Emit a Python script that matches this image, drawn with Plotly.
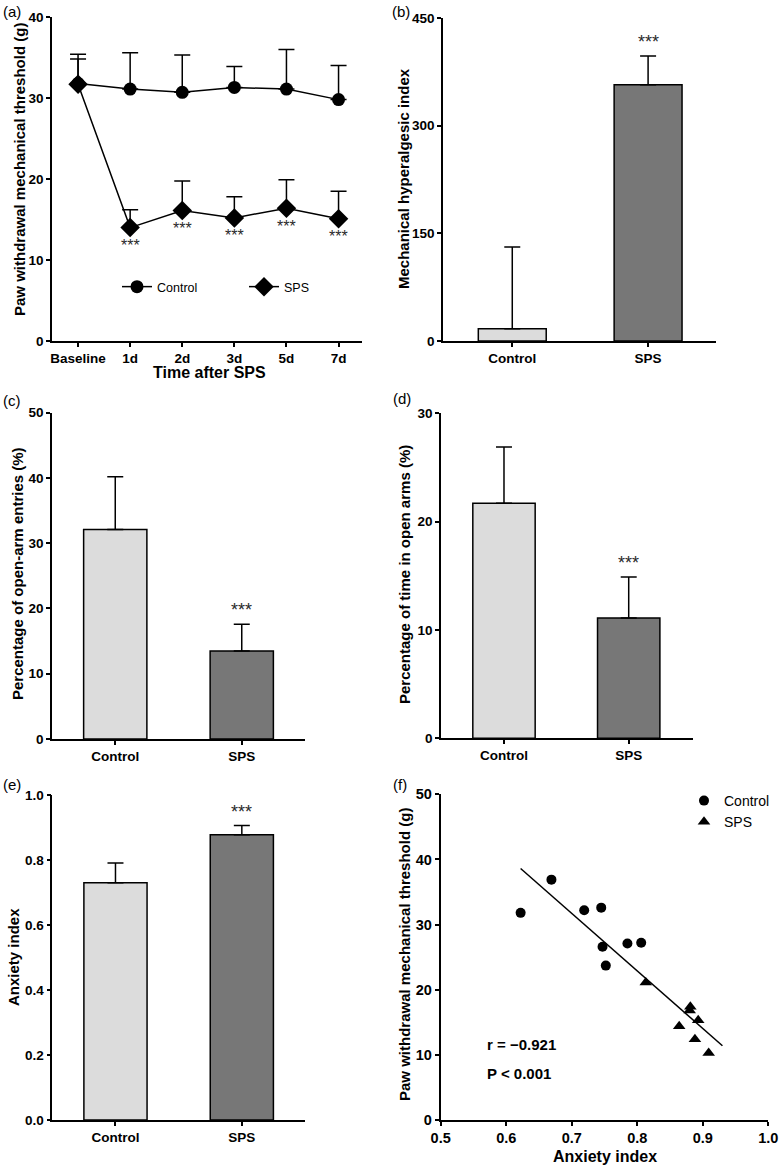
import plotly.graph_objects as go

# ---------------- data ----------------
time_points = ["Baseline", "1d", "2d", "3d", "5d", "7d"]
a_control_mean = [31.8, 31.1, 30.7, 31.3, 31.1, 29.8]
a_control_err = [3.6, 4.5, 4.6, 2.6, 4.9, 4.2]
a_sps_mean = [31.7, 14.0, 16.1, 15.2, 16.4, 15.1]
a_sps_err = [3.1, 2.2, 3.65, 2.6, 3.5, 3.4]
a_sps_sig = ["", "***", "***", "***", "***", "***"]

groups = ["Control", "SPS"]
b_mean = [17, 357]
b_err = [114, 40]
c_mean = [32.1, 13.5]
c_err = [8.1, 4.1]
d_mean = [21.7, 11.1]
d_err = [5.2, 3.8]
e_mean = [0.730, 0.878]
e_err = [0.061, 0.028]
bar_sig = ["", "***"]

f_ctrl_x = [0.622, 0.669, 0.719, 0.745, 0.747, 0.752, 0.785, 0.806]
f_ctrl_y = [31.8, 36.9, 32.2, 32.6, 26.6, 23.7, 27.1, 27.2]
f_sps_x = [0.813, 0.881, 0.880, 0.893, 0.864, 0.888, 0.909]
f_sps_y = [21.1, 17.4, 16.8, 15.3, 14.4, 12.4, 10.3]
f_fit_x = [0.622, 0.930]
f_fit_y = [38.6, 11.4]
f_stats = ["r = \u22120.921", "P < 0.001"]

# ---------------- style ----------------
W, H = 780, 1167
FONT = "Liberation Sans, Arial, sans-serif"
CTRL_COLOR = "#dcdcdc"
SPS_COLOR = "#777777"
STAR_COLOR = "#2a2a2a"


def px(x):
    return x / W


def py(y):
    return 1 - y / H


fig = go.Figure()

# ---- panel (a) ----
fig.add_trace(go.Scatter(
    x=time_points, y=a_control_mean, mode="lines+markers", name="Control",
    line=dict(color="black", width=1.5),
    marker=dict(symbol="circle", size=13, color="black"),
    error_y=dict(type="data", array=a_control_err, arrayminus=[0] * 6, symmetric=False,
                 color="black", thickness=1.5, width=8),
    xaxis="x", yaxis="y", legend="legend"))
fig.add_trace(go.Scatter(
    x=time_points, y=a_sps_mean, mode="lines+markers", name="SPS",
    line=dict(color="black", width=1.5),
    marker=dict(symbol="diamond", size=15, color="black"),
    error_y=dict(type="data", array=a_sps_err, arrayminus=[0] * 6, symmetric=False,
                 color="black", thickness=1.5, width=8),
    xaxis="x", yaxis="y", legend="legend"))

annotations = []
for tp, m, s in zip(time_points, a_sps_mean, a_sps_sig):
    if s:
        annotations.append(dict(x=tp, y=m, xref="x", yref="y", text=s, showarrow=False,
                                yshift=-18, font=dict(family=FONT, size=16, color=STAR_COLOR)))


def bar_panel(xa, ya, means, errs):
    fig.add_trace(go.Bar(
        x=groups, y=means, width=0.5,
        marker=dict(color=[CTRL_COLOR, SPS_COLOR], line=dict(color="black", width=1.5)),
        error_y=dict(type="data", array=errs, arrayminus=[0, 0], symmetric=False,
                     color="black", thickness=1.5, width=8),
        showlegend=False, xaxis=xa, yaxis=ya))
    for g, m, e, s in zip(groups, means, errs, bar_sig):
        if s:
            annotations.append(dict(x=g, y=m + e, xref=xa, yref=ya, text=s, showarrow=False,
                                    yshift=14, font=dict(family=FONT, size=18, color=STAR_COLOR)))


bar_panel("x2", "y2", b_mean, b_err)
bar_panel("x3", "y3", c_mean, c_err)
bar_panel("x4", "y4", d_mean, d_err)
bar_panel("x5", "y5", e_mean, e_err)

# ---- panel (f) ----
fig.add_trace(go.Scatter(
    x=f_fit_x, y=f_fit_y, mode="lines", line=dict(color="black", width=1.5),
    showlegend=False, xaxis="x6", yaxis="y6"))
fig.add_trace(go.Scatter(
    x=f_ctrl_x, y=f_ctrl_y, mode="markers", name="Control",
    marker=dict(symbol="circle", size=10, color="black"),
    xaxis="x6", yaxis="y6", legend="legend2"))
fig.add_trace(go.Scatter(
    x=f_sps_x, y=f_sps_y, mode="markers", name="SPS",
    marker=dict(symbol="triangle-up", size=11, color="black"),
    xaxis="x6", yaxis="y6", legend="legend2"))

stat_font = dict(family=FONT, size=15, color="black", weight="bold")
annotations.append(dict(x=0.567, y=11.6, xref="x6", yref="y6", text=f_stats[0], showarrow=False,
                        xanchor="left", font=stat_font))
annotations.append(dict(x=0.567, y=7.2, xref="x6", yref="y6", text=f_stats[1], showarrow=False,
                        xanchor="left", font=stat_font))

# ---- axes ----
tickfont = dict(family=FONT, size=13.5, color="black", weight="bold")


def axis(domain, rng, anchor, **kw):
    d = dict(domain=domain, range=rng, anchor=anchor, showline=True, linecolor="black",
             linewidth=1.6, ticks="outside", ticklen=4, tickwidth=1.5, tickcolor="black",
             showgrid=False, zeroline=False, tickfont=tickfont, fixedrange=True,
             automargin=False)
    d.update(kw)
    return d


tickfont_f = dict(family=FONT, size=14.5, color="black", weight="bold")

layout_axes = dict(
    xaxis=axis([px(52), px(362)], [-0.5, 5.45], "y", type="category"),
    yaxis=axis([py(341), py(17)], [0, 40], "x", tickvals=[0, 10, 20, 30, 40]),
    xaxis2=axis([px(443), px(716)], [-0.51, 1.5], "y2", type="category"),
    yaxis2=axis([py(341), py(18)], [0, 450], "x2", tickvals=[0, 150, 300, 450]),
    xaxis3=axis([px(52), px(305)], [-0.5, 1.5], "y3", type="category"),
    yaxis3=axis([py(739), py(412.7)], [0, 50], "x3", tickvals=[0, 10, 20, 30, 40, 50]),
    xaxis4=axis([px(441), px(692.7)], [-0.505, 1.513], "y4", type="category"),
    yaxis4=axis([py(738.3), py(413.3)], [0, 30], "x4", tickvals=[0, 10, 20, 30]),
    xaxis5=axis([px(52.3), px(305)], [-0.5, 1.5], "y5", type="category"),
    yaxis5=axis([py(1120), py(795)], [0, 1.0], "x5", tickvals=[0, 0.2, 0.4, 0.6, 0.8, 1.0],
                tickformat=".1f"),
    xaxis6=axis([px(440.7), px(768.3)], [0.5, 1.0], "y6", tickvals=[0.5, 0.6, 0.7, 0.8, 0.9, 1.0],
                tickformat=".1f", tickfont=tickfont_f, linewidth=2),
    yaxis6=axis([py(1120), py(794.3)], [0, 50], "x6", tickvals=[0, 10, 20, 30, 40, 50],
                tickfont=tickfont_f, linewidth=2),
)

# ---- titles (as annotations) ----
title_font = dict(family=FONT, size=15, color="black", weight="bold")
ytitles = [
    ("Paw withdrawal mechanical threshold (g)", 20, 170),
    ("Mechanical hyperalgesic index", 403, 179),
    ("Percentage of open-arm entries (%)", 17, 574),
    ("Percentage of time in open arms (%)", 405, 575),
    ("Anxiety index", 13, 957),
    ("Paw withdrawal mechanical threshold (g)", 404, 955),
]
for t, x, y in ytitles:
    annotations.append(dict(x=px(x), y=py(y), xref="paper", yref="paper", text=t, textangle=-90,
                            showarrow=False, xanchor="center", yanchor="middle", font=title_font))
xtitles = [("Time after SPS", 209, 372), ("Anxiety index", 605, 1156)]
for t, x, y in xtitles:
    annotations.append(dict(x=px(x), y=py(y), xref="paper", yref="paper", text=t,
                            showarrow=False, xanchor="center", yanchor="middle",
                            font=dict(family=FONT, size=16, color="black", weight="bold")))

letters = [("(a)", 1, 12), ("(b)", 390, 11), ("(c)", 1, 400), ("(d)", 391, 399),
           ("(e)", 1, 785), ("(f)", 391, 785)]
for t, x, y in letters:
    annotations.append(dict(x=px(x), y=py(y), xref="paper", yref="paper", text=t,
                            showarrow=False, xanchor="left", yanchor="middle",
                            font=dict(family=FONT, size=15, color="black")))

fig.update_layout(
    width=W, height=H, margin=dict(l=0, r=0, t=0, b=0, autoexpand=False),
    paper_bgcolor="white", plot_bgcolor="white",
    font=dict(family=FONT, color="black"),
    annotations=annotations,
    legend=dict(orientation="h", x=px(117), y=py(287), xanchor="left", yanchor="middle",
                entrywidth=82, entrywidthmode="pixels", bgcolor="rgba(0,0,0,0)",
                font=dict(family=FONT, size=12.5, color="black")),
    legend2=dict(orientation="v", x=px(684), y=py(785), xanchor="left", yanchor="top",
                 bgcolor="rgba(0,0,0,0)", tracegroupgap=0,
                 font=dict(family=FONT, size=14, color="black")),
    **layout_axes,
)

fig.write_html("out.html", config={"displayModeBar": False},
               post_script="document.body.style.margin='0';document.body.style.overflow='hidden';")
